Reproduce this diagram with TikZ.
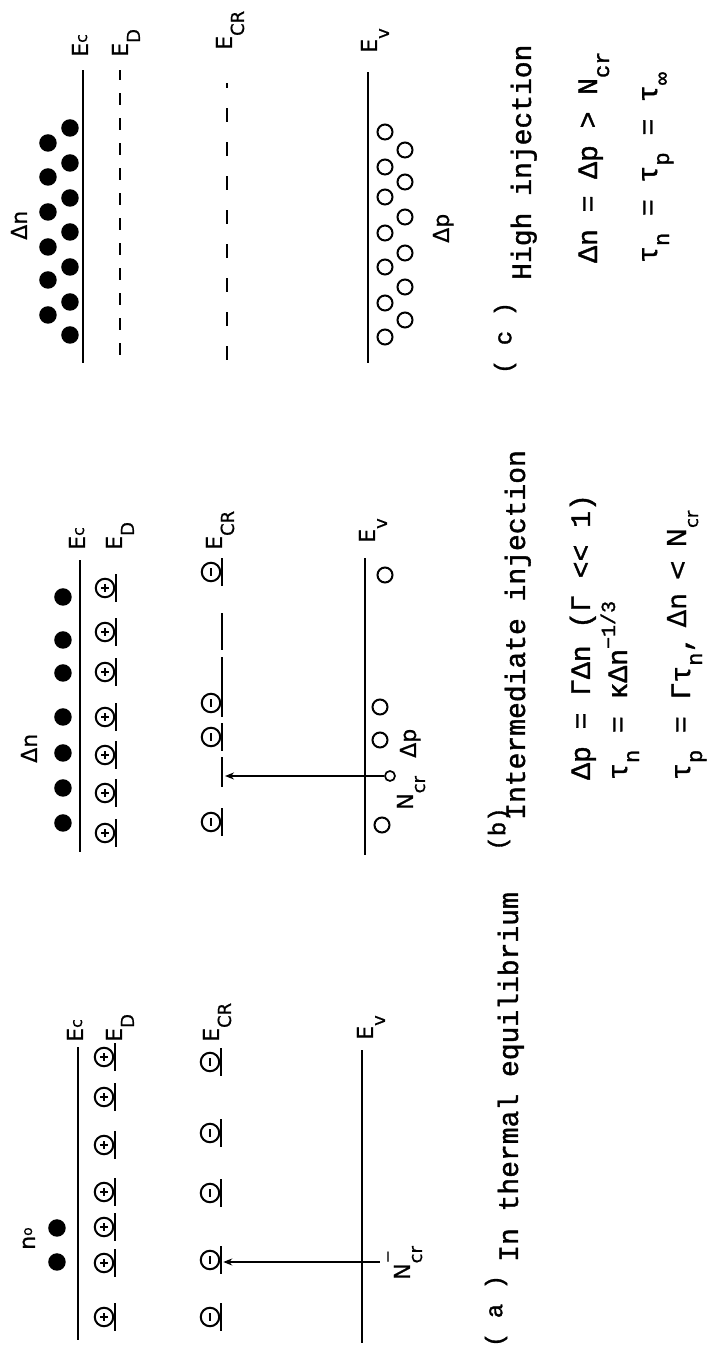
\documentclass[tikz,border=0pt]{standalone}
\usepackage{fontspec}
\newfontfamily\lettering[FakeBold=0.6]{DejaVu Sans}
\newfontfamily\typer[FakeBold=1.4]{Liberation Mono}
\usetikzlibrary{arrows.meta}

% sub/superscripts for the lettered labels and the typed captions
\newcommand\lsub[1]{\raisebox{-12pt}{\fontsize{18}{18}\selectfont #1}}
\newcommand\tsub[1]{\raisebox{-12pt}{\fontsize{22}{22}\selectfont #1}}
\newcommand\tsup[1]{\raisebox{12pt}{\fontsize{20}{20}\selectfont #1}}
\newcommand\plusmark{\makebox[0pt]{\rule[-4pt]{1.3pt}{8pt}}\makebox[0pt]{\rule[-0.65pt]{8pt}{1.3pt}}}
\newcommand\minusmark{\makebox[0pt]{\rule[-0.7pt]{8pt}{1.4pt}}}

\begin{document}
\begin{tikzpicture}[x=1pt, y=1pt, rotate=90, transform shape,
  band/.style={line width=2.6pt},
  lvl/.style={line width=2.4pt},
  elec/.style={circle, fill, minimum size=17.5pt, inner sep=0pt},
  hole/.style={circle, draw, line width=2pt, minimum size=15pt, inner sep=0pt},
  ion/.style={circle, draw, line width=2pt, minimum size=18.5pt, inner sep=0pt},
  lbl/.style={font=\lettering\fontsize{22}{22}\selectfont, inner sep=0pt, anchor=base west},
  capt/.style={font=\typer\fontsize{28}{28}\selectfont, inner sep=0pt, anchor=base west},
  tag/.style={font=\typer\fontsize{24}{24}\selectfont, inner sep=0pt},
  arrow/.style={-{Stealth[length=9pt, width=7pt]}, line width=1.8pt}
]
  \useasboundingbox (0,0) rectangle (1356,722);

  % (a) thermal equilibrium
  \draw[band] (16,644) -- (309,644);
  \draw[band] (13,360) -- (306,360);
  \foreach \x [count=\i] in {299,259,211,164,129,93,39} {
    \node[ion] (da\i) at (\x,618) {\plusmark};
    \draw[lvl] (\x-14,607) -- (\x+14,607);
  }
  \foreach \x [count=\i] in {294,223,163,96,39} {
    \node[ion] (ta\i) at (\x,512) {\minusmark};
    \draw[lvl] (\x-14,501) -- (\x+14,501);
  }
  \node[elec] (ea1) at (128,665) {};
  \node[elec] (ea2) at (94,665) {};
  \node[lbl] (noa) at (106,687) {n\raisebox{3pt}{\fontsize{14}{14}\selectfont o}};
  \node[lbl] (eca) at (314,639) {E\raisebox{1pt}{\fontsize{16}{16}\selectfont c}};
  \node[lbl] (eda) at (314,600) {E\lsub{D}};
  \node[lbl] (ecra) at (314,503) {E\lsub{CR}};
  \node[lbl] (eva) at (316,349) {E\lsub{v}};
  \node[lbl] (ncra) at (76,312) {N\rlap{\raisebox{17pt}{\fontsize{16}{16}\selectfont −}}\lsub{cr}};
  \coordinate (fa) at (94,342);
  \draw[arrow, shorten >=3pt] (fa) -- (fa |- ta4.south);
  \node[tag] (taga) at (45,226) {( a )};
  \node[capt] (capa) at (94,204) {In thermal equilibrium};

  % (b) intermediate injection
  \draw[band] (504,642) -- (796,642);
  \draw[band] (501,357) -- (798,357);
  \foreach \x [count=\i] in {768,724,684,639,601,563,523} {
    \node[ion] (db\i) at (\x,617) {\plusmark};
    \draw[lvl] (\x-14,606) -- (\x+14,606);
  }
  \foreach \x [count=\i] in {759,716,683,639,603,568,533}
    \node[elec] (eb\i) at (\x,659) {};
  \foreach \x [count=\i] in {784,653,619,534} {
    \node[ion] (tb\i) at (\x,511) {\minusmark};
    \draw[lvl] (\x-14,500) -- (\x+14,500);
  }
  \draw[lvl] (706,500) -- (743,500);
  \draw[lvl] (666,500) -- (699,500);
  \draw[lvl] (569,500) -- (599,500);
  \coordinate (tgtb) at (583,500);
  \foreach \x/\y [count=\i] in {781/337,649/342,616/342,531/340}
    \node[hole] (hb\i) at (\x,\y) {};
  \node[hole, minimum size=10pt, line width=1.7pt] (hcap) at (580,332) {};
  \draw[arrow, shorten >=3pt] (hcap.north) -- (hcap.north |- tgtb);
  \node[lbl] (dnb) at (593,685) {Δn};
  \node[lbl] (ecb) at (806,637) {E\raisebox{1pt}{\fontsize{16}{16}\selectfont c}};
  \node[lbl] (edb) at (806,600) {E\lsub{D}};
  \node[lbl] (ecrb) at (806,500) {E\lsub{CR}};
  \node[lbl] (evb) at (813,347) {E\lsub{v}};
  \node[lbl] (ncrb) at (546,309) {N\lsub{cr}};
  \node[lbl] (dpb) at (598,306) {Δp};
  \node[tag] (tagb) at (527,223) {(b)};
  \node[capt] (capb) at (536,197) {Intermediate injection};
  \node[capt] (eqb1) at (576,132) {Δp = ΓΔn (Γ << 1)};
  \node[capt] (eqb2) at (576,95) {τ\tsub{n} = κΔn\tsup{−1/3}};
  \node[capt] (eqb3) at (576,32) {τ\tsub{p} = Γτ\tsub{n},\raisebox{4pt}{\lettering\fontsize{26}{26}\selectfont\ Δn\hspace{12pt}<\hspace{12pt}N\lsub{cr}}};

  % (c) high injection
  \draw[band] (993,639) -- (1286,639);
  \draw[lvl, dash pattern=on 12pt off 13pt] (1001,602) -- (1286,602);
  \draw[lvl, dash pattern=on 14pt off 20pt] (996,495) -- (1273,495);
  \draw[band] (993,354) -- (1284,354);
  \foreach \x [count=\i] in {1228,1193,1158,1124,1089,1054,1021}
    \node[elec] (ec\i) at (\x,652) {};
  \foreach \x [count=\i] in {1213,1179,1144,1109,1076,1041}
    \node[elec] (ecc\i) at (\x,674) {};
  \foreach \x [count=\i] in {1224,1189,1159,1123,1089,1053,1019}
    \node[hole] (hc\i) at (\x,337) {};
  \foreach \x [count=\i] in {1206,1174,1139,1103,1069,1036}
    \node[hole] (hcc\i) at (\x,317) {};
  \node[lbl] (dnc) at (1116,695) {Δn};
  \node[lbl] (dpc) at (1113,273) {Δp};
  \node[lbl] (ecc) at (1299,634) {E\raisebox{1pt}{\fontsize{16}{16}\selectfont c}};
  \node[lbl] (edc) at (1299,594) {E\lsub{D}};
  \node[lbl] (ecrc) at (1306,490) {E\lsub{CR}};
  \node[lbl] (evc) at (1303,345) {E\lsub{v}};
  \node[tag] (tagc) at (1018,217) {( c )};
  \node[capt] (capc) at (1076,191) {High injection};
  \node[capt] (eqc1) at (1093,125) {Δn = Δp > N\tsub{cr}};
  \node[capt] (eqc2) at (1093,65) {τ\tsub{n} = τ\tsub{p} = τ\tsub{∞}};
\end{tikzpicture}
\end{document}
